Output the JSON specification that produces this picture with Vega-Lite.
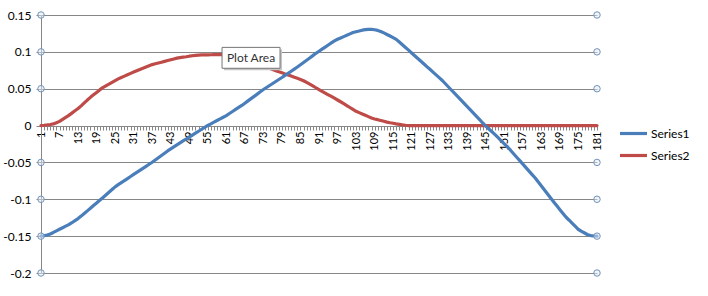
{
"$schema":"https://vega.github.io/schema/vega-lite/v6.json",
"width":556,"height":258,
"autosize":{"type":"none"},
"padding":{"left":41,"top":15,"right":111,"bottom":23},
"background":"white",
"config":{"font":"Lato","view":{"stroke":null},
"axisX":{"orient":"bottom","offset":-147,"title":null,"labelAngle":270,"labelExpr":"(datum.value - 1) % 6 == 0 ? datum.label : ''","labelFontSize":11,"labelPadding":1,"labelColor":"black","tickSize":4,"tickColor":"#868686","domainColor":"#868686","grid":false,"labelOverlap":false,"labelBound":false,"labelFlush":false},
"axisY":{"labelExpr":"'' + datum.value","title":null,"grid":true,"gridColor":"#868686","gridWidth":1,"domainColor":"#868686","tickColor":"#868686","tickSize":5,"labelPadding":5,"labelFontSize":12,"labelColor":"black"}
},
"datasets":{
"main":[
{"c":1,"Series1":-0.1500,"Series2":0},
{"c":2,"Series1":-0.1495,"Series2":0.0004},
{"c":3,"Series1":-0.1485,"Series2":0.0009},
{"c":4,"Series1":-0.1470,"Series2":0.0015},
{"c":5,"Series1":-0.1450,"Series2":0.0022},
{"c":6,"Series1":-0.1428,"Series2":0.0039},
{"c":7,"Series1":-0.1407,"Series2":0.0057},
{"c":8,"Series1":-0.1386,"Series2":0.0084},
{"c":9,"Series1":-0.1365,"Series2":0.0111},
{"c":10,"Series1":-0.1344,"Series2":0.0138},
{"c":11,"Series1":-0.1318,"Series2":0.0169},
{"c":12,"Series1":-0.1290,"Series2":0.0200},
{"c":13,"Series1":-0.1262,"Series2":0.0231},
{"c":14,"Series1":-0.1228,"Series2":0.0267},
{"c":15,"Series1":-0.1192,"Series2":0.0307},
{"c":16,"Series1":-0.1157,"Series2":0.0346},
{"c":17,"Series1":-0.1121,"Series2":0.0383},
{"c":18,"Series1":-0.1085,"Series2":0.0417},
{"c":19,"Series1":-0.1050,"Series2":0.0450},
{"c":20,"Series1":-0.1014,"Series2":0.0484},
{"c":21,"Series1":-0.0978,"Series2":0.0516},
{"c":22,"Series1":-0.0941,"Series2":0.0540},
{"c":23,"Series1":-0.0905,"Series2":0.0563},
{"c":24,"Series1":-0.0868,"Series2":0.0586},
{"c":25,"Series1":-0.0831,"Series2":0.0610},
{"c":26,"Series1":-0.0802,"Series2":0.0633},
{"c":27,"Series1":-0.0774,"Series2":0.0653},
{"c":28,"Series1":-0.0746,"Series2":0.0671},
{"c":29,"Series1":-0.0719,"Series2":0.0690},
{"c":30,"Series1":-0.0691,"Series2":0.0708},
{"c":31,"Series1":-0.0663,"Series2":0.0726},
{"c":32,"Series1":-0.0636,"Series2":0.0744},
{"c":33,"Series1":-0.0608,"Series2":0.0761},
{"c":34,"Series1":-0.0580,"Series2":0.0777},
{"c":35,"Series1":-0.0553,"Series2":0.0794},
{"c":36,"Series1":-0.0525,"Series2":0.0811},
{"c":37,"Series1":-0.0497,"Series2":0.0827},
{"c":38,"Series1":-0.0466,"Series2":0.0838},
{"c":39,"Series1":-0.0436,"Series2":0.0849},
{"c":40,"Series1":-0.0405,"Series2":0.0860},
{"c":41,"Series1":-0.0375,"Series2":0.0871},
{"c":42,"Series1":-0.0344,"Series2":0.0882},
{"c":43,"Series1":-0.0316,"Series2":0.0893},
{"c":44,"Series1":-0.0289,"Series2":0.0904},
{"c":45,"Series1":-0.0262,"Series2":0.0915},
{"c":46,"Series1":-0.0235,"Series2":0.0922},
{"c":47,"Series1":-0.0209,"Series2":0.0928},
{"c":48,"Series1":-0.0182,"Series2":0.0934},
{"c":49,"Series1":-0.0156,"Series2":0.0941},
{"c":50,"Series1":-0.0129,"Series2":0.0947},
{"c":51,"Series1":-0.0103,"Series2":0.0953},
{"c":52,"Series1":-0.0077,"Series2":0.0956},
{"c":53,"Series1":-0.0050,"Series2":0.0958},
{"c":54,"Series1":-0.0024,"Series2":0.0959},
{"c":55,"Series1":0.0002,"Series2":0.0960},
{"c":56,"Series1":0.0024,"Series2":0.0961},
{"c":57,"Series1":0.0047,"Series2":0.0962},
{"c":58,"Series1":0.0069,"Series2":0.0963},
{"c":59,"Series1":0.0091,"Series2":0.0963},
{"c":60,"Series1":0.0113,"Series2":0.0963},
{"c":61,"Series1":0.0136,"Series2":0.0962},
{"c":62,"Series1":0.0164,"Series2":0.0960},
{"c":63,"Series1":0.0191,"Series2":0.0955},
{"c":64,"Series1":0.0219,"Series2":0.0948},
{"c":65,"Series1":0.0246,"Series2":0.0938},
{"c":66,"Series1":0.0273,"Series2":0.0926},
{"c":67,"Series1":0.0304,"Series2":0.0912},
{"c":68,"Series1":0.0335,"Series2":0.0897},
{"c":69,"Series1":0.0366,"Series2":0.0880},
{"c":70,"Series1":0.0396,"Series2":0.0863},
{"c":71,"Series1":0.0427,"Series2":0.0845},
{"c":72,"Series1":0.0458,"Series2":0.0827},
{"c":73,"Series1":0.0489,"Series2":0.0810},
{"c":74,"Series1":0.0517,"Series2":0.0793},
{"c":75,"Series1":0.0544,"Series2":0.0776},
{"c":76,"Series1":0.0571,"Series2":0.0760},
{"c":77,"Series1":0.0598,"Series2":0.0745},
{"c":78,"Series1":0.0625,"Series2":0.0730},
{"c":79,"Series1":0.0652,"Series2":0.0715},
{"c":80,"Series1":0.0680,"Series2":0.0701},
{"c":81,"Series1":0.0708,"Series2":0.0686},
{"c":82,"Series1":0.0737,"Series2":0.0671},
{"c":83,"Series1":0.0766,"Series2":0.0656},
{"c":84,"Series1":0.0795,"Series2":0.0641},
{"c":85,"Series1":0.0825,"Series2":0.0626},
{"c":86,"Series1":0.0855,"Series2":0.0608},
{"c":87,"Series1":0.0886,"Series2":0.0585},
{"c":88,"Series1":0.0917,"Series2":0.0562},
{"c":89,"Series1":0.0949,"Series2":0.0539},
{"c":90,"Series1":0.0980,"Series2":0.0513},
{"c":91,"Series1":0.1008,"Series2":0.0488},
{"c":92,"Series1":0.1037,"Series2":0.0464},
{"c":93,"Series1":0.1065,"Series2":0.0440},
{"c":94,"Series1":0.1093,"Series2":0.0417},
{"c":95,"Series1":0.1121,"Series2":0.0395},
{"c":96,"Series1":0.1149,"Series2":0.0371},
{"c":97,"Series1":0.1171,"Series2":0.0347},
{"c":98,"Series1":0.1189,"Series2":0.0323},
{"c":99,"Series1":0.1207,"Series2":0.0298},
{"c":100,"Series1":0.1226,"Series2":0.0272},
{"c":101,"Series1":0.1244,"Series2":0.0245},
{"c":102,"Series1":0.1262,"Series2":0.0219},
{"c":103,"Series1":0.1273,"Series2":0.0194},
{"c":104,"Series1":0.1283,"Series2":0.0176},
{"c":105,"Series1":0.1294,"Series2":0.0158},
{"c":106,"Series1":0.1301,"Series2":0.0139},
{"c":107,"Series1":0.1306,"Series2":0.0121},
{"c":108,"Series1":0.1305,"Series2":0.0103},
{"c":109,"Series1":0.1300,"Series2":0.0090},
{"c":110,"Series1":0.1291,"Series2":0.0080},
{"c":111,"Series1":0.1277,"Series2":0.0069},
{"c":112,"Series1":0.1257,"Series2":0.0058},
{"c":113,"Series1":0.1236,"Series2":0.0047},
{"c":114,"Series1":0.1215,"Series2":0.0038},
{"c":115,"Series1":0.1193,"Series2":0.0031},
{"c":116,"Series1":0.1169,"Series2":0.0023},
{"c":117,"Series1":0.1133,"Series2":0.0016},
{"c":118,"Series1":0.1096,"Series2":0.0009},
{"c":119,"Series1":0.1060,"Series2":0.0004},
{"c":120,"Series1":0.1023,"Series2":0},
{"c":121,"Series1":0.0985,"Series2":0},
{"c":122,"Series1":0.0948,"Series2":0},
{"c":123,"Series1":0.0910,"Series2":0},
{"c":124,"Series1":0.0873,"Series2":0},
{"c":125,"Series1":0.0835,"Series2":0},
{"c":126,"Series1":0.0797,"Series2":0},
{"c":127,"Series1":0.0760,"Series2":0},
{"c":128,"Series1":0.0722,"Series2":0},
{"c":129,"Series1":0.0685,"Series2":0},
{"c":130,"Series1":0.0647,"Series2":0},
{"c":131,"Series1":0.0608,"Series2":0},
{"c":132,"Series1":0.0564,"Series2":0},
{"c":133,"Series1":0.0520,"Series2":0},
{"c":134,"Series1":0.0476,"Series2":0},
{"c":135,"Series1":0.0432,"Series2":0},
{"c":136,"Series1":0.0388,"Series2":0},
{"c":137,"Series1":0.0344,"Series2":0},
{"c":138,"Series1":0.0300,"Series2":0},
{"c":139,"Series1":0.0256,"Series2":0},
{"c":140,"Series1":0.0212,"Series2":0},
{"c":141,"Series1":0.0168,"Series2":0},
{"c":142,"Series1":0.0124,"Series2":0},
{"c":143,"Series1":0.0080,"Series2":0},
{"c":144,"Series1":0.0035,"Series2":0},
{"c":145,"Series1":-0.0008,"Series2":0},
{"c":146,"Series1":-0.0046,"Series2":0},
{"c":147,"Series1":-0.0084,"Series2":0},
{"c":148,"Series1":-0.0122,"Series2":0},
{"c":149,"Series1":-0.0164,"Series2":0},
{"c":150,"Series1":-0.0206,"Series2":0},
{"c":151,"Series1":-0.0248,"Series2":0},
{"c":152,"Series1":-0.0290,"Series2":0},
{"c":153,"Series1":-0.0334,"Series2":0},
{"c":154,"Series1":-0.0382,"Series2":0},
{"c":155,"Series1":-0.0429,"Series2":0},
{"c":156,"Series1":-0.0476,"Series2":0},
{"c":157,"Series1":-0.0523,"Series2":0},
{"c":158,"Series1":-0.0570,"Series2":0},
{"c":159,"Series1":-0.0618,"Series2":0},
{"c":160,"Series1":-0.0665,"Series2":0},
{"c":161,"Series1":-0.0712,"Series2":0},
{"c":162,"Series1":-0.0766,"Series2":0},
{"c":163,"Series1":-0.0821,"Series2":0},
{"c":164,"Series1":-0.0875,"Series2":0},
{"c":165,"Series1":-0.0929,"Series2":0},
{"c":166,"Series1":-0.0983,"Series2":0},
{"c":167,"Series1":-0.1036,"Series2":0},
{"c":168,"Series1":-0.1089,"Series2":0},
{"c":169,"Series1":-0.1141,"Series2":0},
{"c":170,"Series1":-0.1193,"Series2":0},
{"c":171,"Series1":-0.1244,"Series2":0},
{"c":172,"Series1":-0.1284,"Series2":0},
{"c":173,"Series1":-0.1326,"Series2":0},
{"c":174,"Series1":-0.1368,"Series2":0},
{"c":175,"Series1":-0.1410,"Series2":0},
{"c":176,"Series1":-0.1434,"Series2":0},
{"c":177,"Series1":-0.1457,"Series2":0},
{"c":178,"Series1":-0.1481,"Series2":0},
{"c":179,"Series1":-0.1492,"Series2":0},
{"c":180,"Series1":-0.1498,"Series2":0},
{"c":181,"Series1":-0.1500,"Series2":0}
],
"handles":[
{"c":1,"v":0.15},{"c":1,"v":0.1},{"c":1,"v":0.05},{"c":1,"v":-0.05},{"c":1,"v":-0.1},{"c":1,"v":-0.15},{"c":1,"v":-0.2},
{"c":181,"v":0.15},{"c":181,"v":0.1},{"c":181,"v":0.05},{"c":181,"v":-0.05},{"c":181,"v":-0.1},{"c":181,"v":-0.15},{"c":181,"v":-0.2}
],
"tip":[{"c":69,"v":0.0919,"t":"Plot Area"}]
},
"layer":[
{
"data":{"name":"main"},
"transform":[{"fold":["Series1","Series2"],"as":["series","value"]},{"filter":"datum.series == 'Series2'"}],
"mark":{"type":"line","strokeWidth":3.2,"strokeJoin":"round","strokeCap":"round"},
"encoding":{
"x":{"field":"c","type":"ordinal","scale":{"type":"point","padding":0},"axis":{"title":null}},
"y":{"field":"value","type":"quantitative","scale":{"domain":[-0.2,0.15],"nice":false,"zero":false},
"axis":{"title":null,"values":[-0.2,-0.15,-0.1,-0.05,0,0.05,0.1,0.15]}},
"color":{"field":"series","type":"nominal","scale":{"domain":["Series1","Series2"],"range":["#4A7EBB","#BE4B48"]},
"legend":{"orient":"none","legendX":577,"legendY":103,"title":null,"symbolType":"stroke","symbolSize":729,"symbolStrokeWidth":3.2,"labelFontSize":12,"labelColor":"black","labelOffset":2,"rowPadding":-2}}
}
},
{
"data":{"name":"main"},
"transform":[{"fold":["Series1","Series2"],"as":["series","value"]},{"filter":"datum.series == 'Series1'"}],
"mark":{"type":"line","strokeWidth":3.2,"strokeJoin":"round","strokeCap":"round"},
"encoding":{
"x":{"field":"c","type":"ordinal","axis":{"title":null}},
"y":{"field":"value","type":"quantitative","axis":{"title":null,"values":[-0.2,-0.15,-0.1,-0.05,0,0.05,0.1,0.15]}},
"color":{"field":"series","type":"nominal"}
}
},
{
"data":{"name":"handles"},
"mark":{"type":"point","shape":"circle","size":42,"filled":true,"fill":"#e3ecf5","fillOpacity":0.5,"stroke":"#7393B9","strokeWidth":1,"opacity":1},
"encoding":{
"x":{"field":"c","type":"ordinal","axis":{"title":null}},
"y":{"field":"v","type":"quantitative","axis":{"title":null,"values":[-0.2,-0.15,-0.1,-0.05,0,0.05,0.1,0.15]}}
}
},
{
"data":{"name":"tip"},
"mark":{"type":"point","shape":"M-1,-0.36H1V0.36H-1Z","size":3364,"filled":true,"fill":"#c4c4c4","strokeWidth":0,"opacity":1,"xOffset":2,"yOffset":2},
"encoding":{
"x":{"field":"c","type":"ordinal","axis":{"title":null}},
"y":{"field":"v","type":"quantitative","axis":{"title":null,"values":[-0.2,-0.15,-0.1,-0.05,0,0.05,0.1,0.15]}}
}
},
{
"data":{"name":"tip"},
"mark":{"type":"point","shape":"M-1,-0.36H1V0.36H-1Z","size":3364,"filled":true,"fill":"white","stroke":"#767676","strokeWidth":1,"opacity":1},
"encoding":{
"x":{"field":"c","type":"ordinal","axis":{"title":null}},
"y":{"field":"v","type":"quantitative","axis":{"title":null,"values":[-0.2,-0.15,-0.1,-0.05,0,0.05,0.1,0.15]}}
}
},
{
"data":{"name":"tip"},
"mark":{"type":"text","fontSize":12,"color":"#333333","align":"center","baseline":"middle"},
"encoding":{
"x":{"field":"c","type":"ordinal","axis":{"title":null}},
"y":{"field":"v","type":"quantitative","axis":{"title":null,"values":[-0.2,-0.15,-0.1,-0.05,0,0.05,0.1,0.15]}},
"text":{"field":"t"}
}
}
]
}
